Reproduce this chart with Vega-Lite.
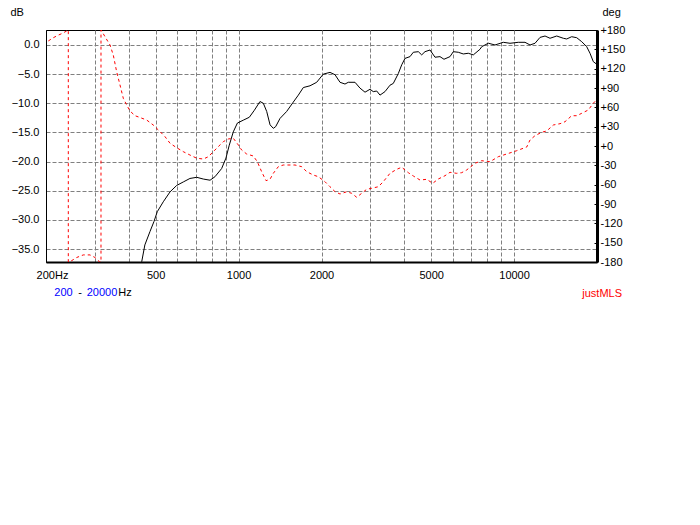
{
  "$schema": "https://vega.github.io/schema/vega-lite/v6.json",
  "width": 551,
  "height": 232,
  "autosize": {"type": "none"},
  "padding": {"left": 46, "top": 30, "right": 103, "bottom": 263},
  "background": "white",
  "config": {
    "view": {"stroke": "#000", "strokeWidth": 1},
    "font": "Liberation Sans",
    "axis": {
      "labelFont": "Liberation Sans", "labelFontSize": 11, "labelColor": "#000",
      "titleFont": "Liberation Sans", "titleFontSize": 11, "titleFontWeight": "normal", "titleColor": "#000"
    },
    "text": {"font": "Liberation Sans", "fontSize": 11, "baseline": "middle"}
  },
  "datasets": {
    "mag": [
      {"f": 445, "db": -37.2}, {"f": 457, "db": -34.3}, {"f": 477, "db": -32.0}, {"f": 493, "db": -30.3},
      {"f": 507, "db": -28.6}, {"f": 533, "db": -26.9}, {"f": 564, "db": -25.2}, {"f": 596, "db": -24.1},
      {"f": 630, "db": -23.5}, {"f": 666, "db": -22.9}, {"f": 705, "db": -22.7}, {"f": 745, "db": -23.0},
      {"f": 788, "db": -23.2}, {"f": 821, "db": -22.6}, {"f": 868, "db": -21.2}, {"f": 900, "db": -19.4},
      {"f": 925, "db": -17.2}, {"f": 957, "db": -14.9}, {"f": 990, "db": -13.4}, {"f": 1040, "db": -12.9},
      {"f": 1094, "db": -12.4}, {"f": 1141, "db": -11.2}, {"f": 1196, "db": -9.7}, {"f": 1230, "db": -10.0},
      {"f": 1265, "db": -11.4}, {"f": 1301, "db": -13.7}, {"f": 1337, "db": -14.3}, {"f": 1364, "db": -14.0},
      {"f": 1414, "db": -12.6}, {"f": 1495, "db": -11.4}, {"f": 1580, "db": -9.8}, {"f": 1648, "db": -8.6},
      {"f": 1718, "db": -7.3}, {"f": 1817, "db": -7.0}, {"f": 1921, "db": -6.4}, {"f": 2030, "db": -5.0},
      {"f": 2147, "db": -4.7}, {"f": 2239, "db": -5.1}, {"f": 2335, "db": -6.4}, {"f": 2434, "db": -6.7},
      {"f": 2502, "db": -6.4}, {"f": 2646, "db": -6.4}, {"f": 2759, "db": -7.4}, {"f": 2877, "db": -8.1},
      {"f": 2999, "db": -7.6}, {"f": 3083, "db": -8.0}, {"f": 3173, "db": -7.9}, {"f": 3261, "db": -8.6},
      {"f": 3400, "db": -8.0}, {"f": 3545, "db": -6.9}, {"f": 3644, "db": -6.6}, {"f": 3801, "db": -4.9},
      {"f": 3910, "db": -3.4}, {"f": 4019, "db": -2.3}, {"f": 4190, "db": -2.0}, {"f": 4308, "db": -1.25},
      {"f": 4492, "db": -1.15}, {"f": 4621, "db": -1.7}, {"f": 4750, "db": -1.15}, {"f": 4953, "db": -0.86},
      {"f": 5165, "db": -2.1}, {"f": 5384, "db": -2.0}, {"f": 5567, "db": -2.45}, {"f": 5854, "db": -2.0},
      {"f": 6018, "db": -1.15}, {"f": 6275, "db": -1.25}, {"f": 6542, "db": -1.54}, {"f": 6821, "db": -1.42},
      {"f": 7113, "db": -1.7}, {"f": 7522, "db": -0.74}, {"f": 7630, "db": -0.3}, {"f": 8062, "db": 0.3},
      {"f": 8527, "db": 0.0}, {"f": 9140, "db": 0.46}, {"f": 9666, "db": 0.29}, {"f": 10359, "db": 0.46},
      {"f": 10958, "db": 0.46}, {"f": 11426, "db": 0.0}, {"f": 11913, "db": 0.29}, {"f": 12423, "db": 1.3},
      {"f": 12954, "db": 1.54}, {"f": 13505, "db": 1.15}, {"f": 14283, "db": 1.54}, {"f": 15095, "db": 1.15},
      {"f": 15525, "db": 1.03}, {"f": 16186, "db": 1.42}, {"f": 16878, "db": 1.25}, {"f": 17598, "db": 0.57},
      {"f": 18350, "db": -0.29}, {"f": 18864, "db": -1.42}, {"f": 19392, "db": -2.86}, {"f": 19950, "db": -3.3}
    ],
    "phase": [
      {"i": 0, "f": 203.9, "deg": 163}, {"i": 1, "f": 212.6, "deg": 168}, {"i": 2, "f": 221.6, "deg": 172},
      {"i": 3, "f": 229.9, "deg": 175}, {"i": 4, "f": 241, "deg": 180}, {"i": 5, "f": 241, "deg": -180},
      {"i": 6, "f": 244.5, "deg": -179.5}, {"i": 7, "f": 258.5, "deg": -173}, {"i": 8, "f": 273.2, "deg": -169},
      {"i": 9, "f": 288.9, "deg": -169}, {"i": 10, "f": 301.2, "deg": -173}, {"i": 11, "f": 312.3, "deg": -179.5},
      {"i": 12, "f": 316.7, "deg": -180}, {"i": 13, "f": 316.7, "deg": 180}, {"i": 14, "f": 318.6, "deg": 178.4},
      {"i": 15, "f": 327.5, "deg": 169.6}, {"i": 16, "f": 341.5, "deg": 156.7}, {"i": 17, "f": 351, "deg": 141},
      {"i": 18, "f": 361.1, "deg": 115}, {"i": 19, "f": 371.2, "deg": 94.7}, {"i": 20, "f": 381.6, "deg": 74},
      {"i": 21, "f": 392.6, "deg": 63.6}, {"i": 22, "f": 403.6, "deg": 54.3}, {"i": 23, "f": 420.8, "deg": 47},
      {"i": 24, "f": 440, "deg": 44}, {"i": 25, "f": 464, "deg": 40.3}, {"i": 26, "f": 490, "deg": 32.6},
      {"i": 27, "f": 519, "deg": 22.2}, {"i": 28, "f": 541, "deg": 14.4}, {"i": 29, "f": 564, "deg": 4.2},
      {"i": 30, "f": 596, "deg": -2.6}, {"i": 31, "f": 630, "deg": -8.8}, {"i": 32, "f": 666, "deg": -14},
      {"i": 33, "f": 705, "deg": -19}, {"i": 34, "f": 745, "deg": -20.2}, {"i": 35, "f": 777, "deg": -16.6},
      {"i": 36, "f": 810, "deg": -8.8}, {"i": 37, "f": 844, "deg": -1}, {"i": 38, "f": 880, "deg": 6.7},
      {"i": 39, "f": 918, "deg": 10.9}, {"i": 40, "f": 957, "deg": 12}, {"i": 41, "f": 998, "deg": 1.6},
      {"i": 42, "f": 1026, "deg": -6.2}, {"i": 43, "f": 1070, "deg": -12.4}, {"i": 44, "f": 1131, "deg": -15.5},
      {"i": 45, "f": 1170, "deg": -24.4}, {"i": 46, "f": 1213, "deg": -40}, {"i": 47, "f": 1258, "deg": -53.8},
      {"i": 48, "f": 1300, "deg": -51.7}, {"i": 49, "f": 1337, "deg": -42.4}, {"i": 50, "f": 1394, "deg": -32.1},
      {"i": 51, "f": 1453, "deg": -29.5}, {"i": 52, "f": 1537, "deg": -29.5}, {"i": 53, "f": 1603, "deg": -29.5},
      {"i": 54, "f": 1695, "deg": -32.1}, {"i": 55, "f": 1768, "deg": -39.9}, {"i": 56, "f": 1867, "deg": -45},
      {"i": 57, "f": 1947, "deg": -47.6}, {"i": 58, "f": 2059, "deg": -55.4}, {"i": 59, "f": 2147, "deg": -63.2},
      {"i": 60, "f": 2239, "deg": -70.9}, {"i": 61, "f": 2335, "deg": -74.5}, {"i": 62, "f": 2469, "deg": -71},
      {"i": 63, "f": 2574, "deg": -73.4}, {"i": 64, "f": 2684, "deg": -79.6}, {"i": 65, "f": 2798, "deg": -73.4},
      {"i": 66, "f": 2918, "deg": -67.2}, {"i": 67, "f": 3043, "deg": -65.6}, {"i": 68, "f": 3215, "deg": -63.2},
      {"i": 69, "f": 3352, "deg": -55.4}, {"i": 70, "f": 3545, "deg": -42.4}, {"i": 71, "f": 3750, "deg": -36.2},
      {"i": 72, "f": 3910, "deg": -33.0}, {"i": 73, "f": 4132, "deg": -41.4}, {"i": 74, "f": 4308, "deg": -46.5},
      {"i": 75, "f": 4556, "deg": -52.8}, {"i": 76, "f": 4819, "deg": -51.7}, {"i": 77, "f": 5066, "deg": -57.9},
      {"i": 78, "f": 5309, "deg": -51.2}, {"i": 79, "f": 5615, "deg": -46.1}, {"i": 80, "f": 5854, "deg": -40.8},
      {"i": 81, "f": 6191, "deg": -42.4}, {"i": 82, "f": 6455, "deg": -41.4}, {"i": 83, "f": 6730, "deg": -37.2},
      {"i": 84, "f": 7215, "deg": -26.8}, {"i": 85, "f": 7630, "deg": -22.8}, {"i": 86, "f": 8177, "deg": -24.4},
      {"i": 87, "f": 8764, "deg": -16.6}, {"i": 88, "f": 9402, "deg": -12.4}, {"i": 89, "f": 10222, "deg": -7.3},
      {"i": 90, "f": 11114, "deg": -1.6}, {"i": 91, "f": 11426, "deg": 9.3}, {"i": 92, "f": 11913, "deg": 16},
      {"i": 93, "f": 12601, "deg": 21.3}, {"i": 94, "f": 13137, "deg": 23.3}, {"i": 95, "f": 13884, "deg": 32.6},
      {"i": 96, "f": 14683, "deg": 34.6}, {"i": 97, "f": 15309, "deg": 37.7}, {"i": 98, "f": 16186, "deg": 47},
      {"i": 99, "f": 16878, "deg": 47}, {"i": 100, "f": 17598, "deg": 50.7}, {"i": 101, "f": 18596, "deg": 55.9},
      {"i": 102, "f": 19392, "deg": 66.3}, {"i": 103, "f": 19950, "deg": 72}
    ]
  },
  "layer": [
    {
      "data": {"name": "mag"},
      "mark": {"type": "line", "color": "#000", "strokeWidth": 1, "clip": true},
      "encoding": {
        "x": {
          "field": "f", "type": "quantitative",
          "scale": {"type": "log", "domain": [200, 20000], "nice": false},
          "axis": {
            "title": null,
            "values": [200, 300, 400, 500, 600, 700, 800, 900, 1000, 2000, 3000, 4000, 5000, 6000, 7000, 8000, 9000, 10000],
            "labelExpr": "datum.value == 200 ? '200Hz' : (indexof([500, 1000, 2000, 5000, 10000], datum.value) >= 0 ? '' + datum.value : '')",
            "ticks": false,
            "labelPadding": 7,
            "labelFlush": false,
            "labelOverlap": false,
            "labelBound": false,
            "labelOffset": {"condition": {"test": "datum.value == 200", "value": 6}, "value": 0},
            "domainColor": "#000",
            "domainWidth": 2,
            "grid": true,
            "gridColor": {"condition": {"test": "datum.value == 200", "value": "transparent"}, "value": "#808080"},
            "gridDash": [4, 2]
          }
        },
        "y": {
          "field": "db", "type": "quantitative",
          "scale": {"domain": [-37.23, 2.57], "nice": false, "zero": false},
          "axis": {
            "title": "dB",
            "titleAngle": 0, "titleAlign": "left", "titleBaseline": "middle",
            "titleX": -36, "titleY": -18,
            "values": [-35, -30, -25, -20, -15, -10, -5, 0],
            "labelExpr": "format(datum.value, '.1f')",
            "ticks": false,
            "labelPadding": 7,
            "labelFlush": false,
            "labelOverlap": false,
            "labelBound": false,
            "domainColor": "#000",
            "domainWidth": 1,
            "grid": true,
            "gridColor": "#808080",
            "gridDash": [4, 2]
          }
        }
      }
    },
    {
      "data": {"name": "phase"},
      "mark": {"type": "line", "color": "#ff0000", "strokeWidth": 1, "strokeDash": [3, 3], "clip": true},
      "encoding": {
        "x": {"field": "f", "type": "quantitative", "scale": {"type": "log", "domain": [200, 20000], "nice": false}},
        "y": {
          "field": "deg", "type": "quantitative",
          "scale": {"domain": [-180, 180], "nice": false, "zero": false},
          "axis": {
            "orient": "right",
            "title": "deg",
            "titleAngle": 0, "titleAlign": "left", "titleBaseline": "middle",
            "titleX": 5, "titleY": -18,
            "values": [-180, -150, -120, -90, -60, -30, 0, 30, 60, 90, 120, 150, 180],
            "labelExpr": "datum.value >= 0 ? '+' + datum.value : '' + datum.value",
            "ticks": true,
            "tickSize": -3,
            "tickColor": "#000",
            "labelPadding": 6,
            "labelFlush": false,
            "labelOverlap": false,
            "domainColor": "#000",
            "domainWidth": 3,
            "grid": false
          }
        },
        "order": {"field": "i", "type": "quantitative"}
      }
    },
    {
      "layer": [
        {
          "data": {"values": [{"t": "200"}]},
          "mark": {"type": "text", "color": "#0000ff", "align": "left"},
          "encoding": {
            "x": {"datum": 214.4, "type": "quantitative"},
            "y": {"datum": -42.55, "type": "quantitative", "scale": {"domain": [-37.23, 2.57], "nice": false, "zero": false}, "axis": null},
            "text": {"field": "t"}
          }
        },
        {
          "data": {"values": [{"t": "-"}]},
          "mark": {"type": "text", "color": "#000", "align": "center"},
          "encoding": {"x": {"datum": 265.7, "type": "quantitative"}, "y": {"datum": -42.55, "type": "quantitative", "axis": null}, "text": {"field": "t"}}
        },
        {
          "data": {"values": [{"t": "20000"}]},
          "mark": {"type": "text", "color": "#0000ff", "align": "left"},
          "encoding": {"x": {"datum": 281, "type": "quantitative"}, "y": {"datum": -42.55, "type": "quantitative", "axis": null}, "text": {"field": "t"}}
        },
        {
          "data": {"values": [{"t": "Hz"}]},
          "mark": {"type": "text", "color": "#000", "align": "left"},
          "encoding": {"x": {"datum": 366, "type": "quantitative"}, "y": {"datum": -42.55, "type": "quantitative", "axis": null}, "text": {"field": "t"}}
        },
        {
          "data": {"values": [{"t": "justMLS"}]},
          "mark": {"type": "text", "color": "#ff0000", "align": "left"},
          "encoding": {"x": {"datum": 17688, "type": "quantitative"}, "y": {"datum": -42.72, "type": "quantitative", "axis": null}, "text": {"field": "t"}}
        }
      ]
    }
  ],
  "resolve": {"scale": {"y": "independent"}}
}
